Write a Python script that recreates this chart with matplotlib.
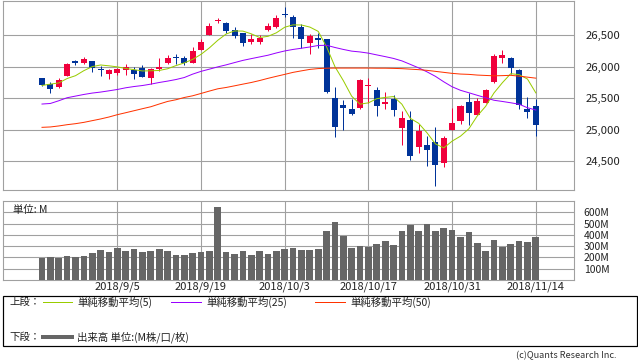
import matplotlib
matplotlib.use('Agg')
import matplotlib.pyplot as plt
from matplotlib.patches import Rectangle
from matplotlib.lines import Line2D

plt.rcParams['font.family'] = ['Noto Sans CJK JP', 'DejaVu Sans']

# ---------------- data ----------------
date_labels = ['2018/9/5', '2018/9/19', '2018/10/3', '2018/10/17', '2018/10/31', '2018/11/14']
date_index = [9, 19, 29, 39, 49, 59]

opens = [25826, 25726, 25673, 25862, 26095, 26063, 26095, 25965, 25889, 25910,
         25957, 25953, 25990, 25831, 25960, 26063, 26150, 26142, 26063, 26274,
         26511, 26727, 26696, 26590, 26538, 26396, 26400, 26590, 26633, 26830,
         26790, 26630, 26385, 26459, 26440, 25505, 25394, 25336, 25341, 25690,
         25631, 25410, 25489, 25030, 25160, 24724, 24766, 24813, 24471, 25000,
         25135, 25446, 25241, 25430, 25763, 26138, 26142, 25953, 25326, 25383]
highs = [25830, 25763, 25826, 26063, 26116, 26163, 26100, 26021, 25960, 25980,
         26052, 26000, 26032, 25990, 26142, 26190, 26200, 26170, 26316, 26440,
         26700, 26775, 26712, 26633, 26545, 26522, 26506, 26690, 26818, 26951,
         26820, 26685, 26527, 26533, 26445, 25673, 25473, 25483, 25810, 25821,
         25673, 25605, 25552, 25304, 25304, 25100, 24908, 25040, 24908, 25340,
         25400, 25578, 25510, 25652, 26200, 26269, 26158, 25963, 25515, 25489]
lows = [25700, 25589, 25665, 25855, 26030, 26040, 25926, 25862, 25800, 25869,
        25873, 25800, 25840, 25736, 25930, 26047, 26052, 26030, 26060, 26270,
        26505, 26700, 26540, 26459, 26332, 26364, 26364, 26570, 26617, 26791,
        26465, 26300, 26211, 26306, 25590, 24882, 24992, 25230, 25330, 25430,
        25214, 25336, 25225, 24760, 24520, 24640, 24423, 24110, 24410, 24995,
        25094, 25080, 25235, 25425, 25750, 26068, 25894, 25330, 25183, 24910]
closes = [25715, 25641, 25794, 26047, 26060, 26127, 25990, 25955, 25953, 25974,
          26005, 25894, 25847, 25968, 26000, 26142, 26145, 26062, 26246, 26400,
          26657, 26745, 26562, 26492, 26385, 26440, 26458, 26651, 26773, 26828,
          26627, 26447, 26486, 26430, 25599, 25053, 25340, 25250, 25798, 25706,
          25379, 25444, 25317, 25191, 24583, 24984, 24688, 24443, 24874, 25116,
          25380, 25270, 25462, 25636, 26180, 26191, 25989, 25387, 25286, 25080]

ma5 = [25705, 25726, 25745, 25815, 25860, 25940, 26004, 26030, 26017, 26000,
       25975, 25956, 25935, 25938, 25943, 25970, 26020, 26063, 26119, 26199,
       26302, 26422, 26522, 26571, 26568, 26525, 26467, 26485, 26541, 26630,
       26667, 26665, 26632, 26564, 26318, 26003, 25782, 25534, 25408, 25429,
       25495, 25515, 25529, 25407, 25183, 25104, 24953, 24778, 24714, 24821,
       24900, 25017, 25220, 25373, 25586, 25748, 25892, 25877, 25807, 25587]
ma25 = [25410, 25419, 25462, 25510, 25536, 25562, 25584, 25600, 25620, 25641,
        25668, 25688, 25704, 25726, 25752, 25774, 25799, 25831, 25885, 25929,
        25964, 26000, 26032, 26068, 26103, 26131, 26158, 26185, 26221, 26253,
        26277, 26296, 26316, 26340, 26343, 26308, 26277, 26250, 26237, 26218,
        26190, 26163, 26134, 26095, 26040, 25984, 25921, 25850, 25763, 25684,
        25628, 25589, 25549, 25510, 25470, 25451, 25430, 25407, 25351, 25315]
ma50 = [25040, 25046, 25062, 25082, 25098, 25119, 25146, 25173, 25204, 25241,
        25272, 25304, 25336, 25367, 25410, 25451, 25478, 25514, 25541, 25578,
        25616, 25652, 25673, 25699, 25726, 25752, 25783, 25818, 25850, 25881,
        25913, 25937, 25960, 25973, 25979, 25981, 25981, 25981, 25981, 25981,
        25979, 25979, 25976, 25972, 25964, 25956, 25945, 25929, 25913, 25897,
        25886, 25881, 25870, 25864, 25858, 25861, 25866, 25853, 25837, 25821]

volume_m = [198, 206, 198, 212, 206, 212, 239, 265, 248, 286,
            257, 274, 248, 257, 274, 257, 221, 221, 239, 248,
            257, 646, 248, 230, 257, 221, 257, 230, 257, 274,
            286, 265, 265, 274, 434, 516, 392, 286, 301, 292,
            319, 345, 310, 434, 487, 434, 496, 434, 460, 445,
            381, 425, 327, 257, 354, 292, 319, 345, 336, 381]

price_ticks = [24500, 25000, 25500, 26000, 26500]
volume_ticks = [100, 200, 300, 400, 500, 600]

# ---------------- style ----------------
UP = '#f0003c'
DOWN = '#003399'
GRID = '#a0a0a0'
W, H = 638, 362
PX = 72 / 100  # one pixel in points

fig = plt.figure(figsize=(W / 100, H / 100), dpi=100)
fig.patch.set_facecolor('white')


def px_axes(l, t, r, b):
    return fig.add_axes([l / W, 1 - b / H, (r - l) / W, (b - t) / H])


XLIM = (-4.66, 63.56)

# ---------------- price panel ----------------
ax = px_axes(3, 0.5, 574, 190)
ax.set_xlim(*XLIM)
ax.set_ylim(24045, 27054)
ax.set_axisbelow(True)
n = len(closes)
xs = list(range(n))
for i in xs:
    o, h, l, c = opens[i], highs[i], lows[i], closes[i]
    col = UP if c > o else DOWN
    ax.vlines(i, l, h, color=col, linewidth=PX, zorder=2)
    body = max(abs(c - o), 16)
    ax.bar(i, body, bottom=min(o, c), width=0.72, color=col, linewidth=0, zorder=3)
ax.plot(xs, ma5, color='#99cc00', linewidth=PX, zorder=4)
ax.plot(xs, ma25, color='#9900ff', linewidth=PX, zorder=4)
ax.plot(xs, ma50, color='#ff3300', linewidth=PX, zorder=4)

ax.set_xticks(date_index)
ax.set_xticklabels([])
ax.set_yticks(price_ticks)
ax.set_yticklabels([f'{v:,}' for v in price_ticks], fontsize=8.2, color='#222222')
ax.yaxis.tick_right()
ax.tick_params(length=0, pad=8)
ax.grid(True, color=GRID, linewidth=1.1 * PX)
for s in ax.spines.values():
    s.set_color(GRID)
    s.set_linewidth(1.1 * PX)

# ---------------- volume panel ----------------
axv = px_axes(3, 201, 574, 280)
axv.set_xlim(*XLIM)
axv.set_ylim(0, 700)
axv.set_axisbelow(True)
axv.bar(xs, volume_m, width=0.8, color='#666666', linewidth=0, zorder=3)
axv.set_xticks(date_index)
axv.set_xticklabels(date_labels, fontsize=8, color='#222222')
axv.set_yticks(volume_ticks)
axv.set_yticklabels([f'{v}M' for v in volume_ticks], fontsize=7.5, color='#222222')
axv.yaxis.tick_right()
axv.tick_params(axis='y', length=0, pad=7)
axv.tick_params(axis='x', length=0, pad=1.2)
axv.grid(True, color=GRID, linewidth=1.1 * PX)
for s in axv.spines.values():
    s.set_color(GRID)
    s.set_linewidth(1.1 * PX)

# ---------------- overlay (pixel coordinates) ----------------
ov = fig.add_axes([0, 0, 1, 1])
ov.set_xlim(0, W)
ov.set_ylim(H, 0)
ov.axis('off')
ov.patch.set_alpha(0)

ov.text(13, 210, '単位: M', fontsize=7.5, ha='left', va='center', color='#222222')

ov.add_patch(Rectangle((3, 295.5), 633.5, 50.5, fill=False, edgecolor='black', linewidth=1.2 * PX))
r1, r2 = 302, 337
fs = 7.5
ov.text(9, r1, '上段：', fontsize=fs, ha='left', va='center', color='#222222')
ov.add_line(Line2D([43, 72], [r1, r1], color='#99cc00', linewidth=PX))
ov.text(77, r1, '単純移動平均(5)', fontsize=fs, ha='left', va='center', color='#222222')
ov.add_line(Line2D([171, 201], [r1, r1], color='#9900ff', linewidth=PX))
ov.text(206, r1, '単純移動平均(25)', fontsize=fs, ha='left', va='center', color='#222222')
ov.add_line(Line2D([315, 345], [r1, r1], color='#ff3300', linewidth=PX))
ov.text(350, r1, '単純移動平均(50)', fontsize=fs, ha='left', va='center', color='#222222')

ov.text(9, r2, '下段：', fontsize=fs, ha='left', va='center', color='#222222')
ov.add_line(Line2D([43, 72], [r2, r2], color='#666666', linewidth=4 * PX))
ov.text(77, r2, '出来高 単位:(M株/口/枚)', fontsize=fs, ha='left', va='center', color='#222222')

ov.text(617, 356, '(c)Quants Research Inc.', fontsize=6.6, ha='right', va='center', color='#333333')

fig.savefig('out.png', dpi=100)
